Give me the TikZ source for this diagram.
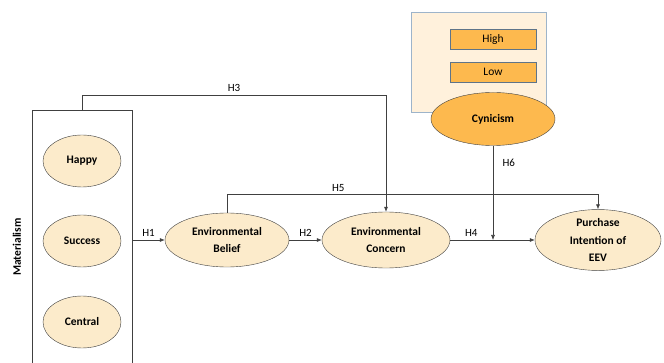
\documentclass[tikz,border=0pt]{standalone}
\usepackage{fontspec}
\setmainfont{Carlito}
\usetikzlibrary{arrows.meta, calc, shapes.geometric}

\definecolor{cream}{HTML}{FCEBCB}
\definecolor{amber}{HTML}{FDB94E}
\definecolor{slate}{HTML}{5E7489}
\definecolor{paleblue}{HTML}{9DB4CA}
\definecolor{boxfill}{HTML}{FFF1DC}
\definecolor{ink}{HTML}{404040}

\begin{document}
\begin{tikzpicture}[x=1pt, y=-1pt,
  construct/.style={ellipse, draw=ink, fill=cream, font=\fontsize{11.5}{17.5}\selectfont\bfseries,
    align=center, inner sep=0pt},
  level/.style={draw=slate, fill=amber, minimum width=86pt, minimum height=20pt,
    inner sep=0pt, font=\fontsize{11.5}{13}\selectfont},
  path/.style={draw=ink, line width=0.6pt, -{Latex[length=5pt,width=4pt]}},
  hyp/.style={font=\fontsize{11}{13}\selectfont}]
\useasboundingbox (0,0) rectangle (664,363);

% materialism block
\node[draw=ink, line width=0.6pt, minimum width=100pt, minimum height=300pt,
  anchor=north] (mat) at (82,110) {};
\node[rotate=90, font=\fontsize{11.5}{13}\selectfont\bfseries] (matlabel) at (17,247) {Materialism};
\node[construct, minimum width=78pt, minimum height=52pt] (happy) at (82,161) {Happy};
\node[construct, minimum width=78pt, minimum height=52pt] (success) at (82,241) {Success};
\node[construct, minimum width=78pt, minimum height=52pt] (central) at (82,322) {Central};

% cynicism block
\node[draw=paleblue, fill=boxfill, minimum width=135pt, minimum height=100pt,
  anchor=north west] (cynbox) at (411,12) {};
\node[level] (high) at (493,39) {High};
\node[level] (low) at (493,72) {Low};
\node[construct, fill=amber, minimum width=124pt, minimum height=53pt] (cyn) at (493,119) {Cynicism};

% main constructs
\node[construct, minimum width=124pt, minimum height=54pt] (belief) at (227,240) {Environmental\\Belief};
\node[construct, minimum width=128pt, minimum height=56pt] (concern) at (386,240) {Environmental\\Concern};
\node[construct, minimum width=126pt, minimum height=60pt] (purchase) at (598,240) {Purchase\\Intention of\\EEV};

% hypotheses
\draw[path] (mat.east |- belief.west) -- node[hyp, above] {H1} (belief.west);
\draw[path] (belief.east) -- node[hyp, above] {H2} (concern.west);
\draw[path] (mat.north) -- ++(0,-15) -| node[hyp, pos=0.25, above] {H3} (concern.north);
\draw[path] (concern.east) -- node[hyp, pos=0.25, above] {H4} (purchase.west);
\draw[path] (belief.north) -- ++(0,-18) -| node[hyp, pos=0.15, above] {H5} (purchase.north);
\coordinate (h6end) at (cyn.south |- concern.east);
\draw[path] (cyn.south) -- node[hyp, pos=0.18, right=6pt] {H6} (h6end);
\end{tikzpicture}
\end{document}
